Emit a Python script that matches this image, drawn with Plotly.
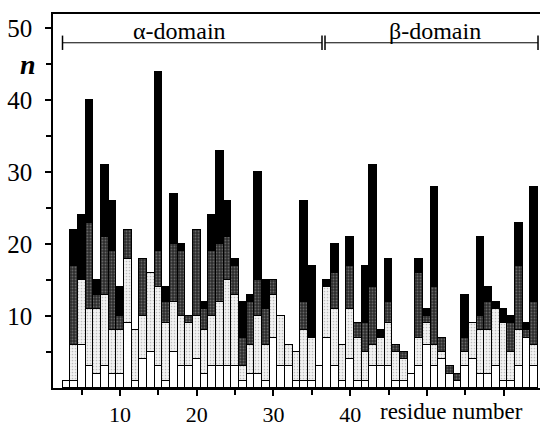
import plotly.graph_objects as go

residues = list(range(3, 65))
white = [1,1,6,3,2,3,2,2,9,1,4,5,3,1,5,3,3,4,2,3,3,3,3,1,2,2,1,7,3,3,1,1,1,3,7,3,1,4,1,1,3,3,3,1,1,2,3,6,3,4,2,1,3,4,2,2,3,1,1,3,7,3]
light = [0,5,9,8,9,10,6,6,9,7,6,11,11,8,7,7,6,6,6,7,9,12,10,2,4,8,5,6,7,3,4,7,6,0,7,8,5,7,6,4,3,4,6,4,3,0,4,3,3,1,0,0,2,5,6,6,8,8,4,5,0,3]
dark = [0,11,0,12,2,8,11,2,4,0,8,0,5,3,8,9,1,12,3,9,8,6,4,4,6,5,5,2,0,0,0,4,0,0,0,5,0,6,2,4,8,0,3,1,1,0,9,1,8,2,1,1,2,0,2,4,0,0,4,9,1,6]
black = [0,5,9,17,2,10,7,4,0,0,0,0,25,2,7,1,0,0,1,5,13,5,1,5,1,15,4,0,0,0,0,14,10,0,1,4,0,4,0,8,17,1,6,0,0,0,2,1,14,0,0,0,6,0,11,2,1,2,1,6,1,16]

y_ticks = [10, 20, 30, 40, 50]
x_ticks = [10, 20, 30, 40, 50, 60]
x_tick_text = ["10", "20", "30", "40", "", ""]

FONT = "Liberation Serif, Times New Roman, serif"

fig = go.Figure()
line = dict(color="black", width=1)
fig.add_trace(go.Bar(x=residues, y=white, marker=dict(color="white", line=line)))
fig.add_trace(go.Bar(x=residues, y=light, marker=dict(
    color="#e6e6e6", line=line,
    pattern=dict(shape=".", fgcolor="#8a8a8a", bgcolor="#f2f2f2", size=3, solidity=0.25))))
fig.add_trace(go.Bar(x=residues, y=dark, marker=dict(
    color="#555555", line=line,
    pattern=dict(shape=".", fgcolor="#a0a0a0", bgcolor="#2c2c2c", size=3, solidity=0.3))))
fig.add_trace(go.Bar(x=residues, y=black, marker=dict(color="black", line=line)))

fig.update_layout(
    barmode="stack", bargap=0, showlegend=False,
    width=540, height=426,
    margin=dict(l=53, r=0, t=14, b=38),
    paper_bgcolor="white", plot_bgcolor="white",
    font=dict(family=FONT, size=25, color="black"),
    xaxis=dict(range=[1.26, 64.75], showgrid=False, zeroline=False, automargin=False,
               showline=True, linecolor="black", linewidth=1.5, mirror=True,
               ticks="outside", ticklen=6, tickwidth=1.5, tickcolor="black",
               tickfont=dict(size=22),
               tickvals=x_ticks, ticktext=x_tick_text, ticklabelstandoff=0,
               minor=dict(tickvals=[5, 15, 25, 35, 45, 55, 65], ticks="outside",
                          ticklen=5, tickwidth=1.5, tickcolor="black")),
    yaxis=dict(range=[0, 52], showgrid=False, zeroline=False, automargin=False,
               showline=True, linecolor="black", linewidth=1.5, mirror=False,
               ticks="outside", ticklen=6, tickwidth=1.5, tickcolor="black",
               tickvals=y_ticks, ticklabelstandoff=8,
               minor=dict(tickvals=[5, 15, 25, 35, 45], ticks="outside",
                          ticklen=5, tickwidth=1.5, tickcolor="black")),
)

# domain brackets
for x0, x1 in [(2.5, 36.33), (36.72, 64.49)]:
    fig.add_shape(type="line", x0=x0, x1=x1, y0=48, y1=48, xref="x", yref="y",
                  line=dict(color="black", width=1))
    for xx in (x0, x1):
        fig.add_shape(type="line", x0=xx, x1=xx, y0=47, y1=49, xref="x", yref="y",
                      line=dict(color="black", width=1.5))

fig.add_annotation(x=17.75, y=49.7, xref="x", yref="y", text="α-domain",
                   showarrow=False, font=dict(family=FONT, size=24))
fig.add_annotation(x=51.1, y=49.7, xref="x", yref="y", text="β-domain",
                   showarrow=False, font=dict(family=FONT, size=24))
fig.add_annotation(x=53.15, y=-0.1, xref="x", yref="paper", text="residue number",
                   showarrow=False, yanchor="bottom", borderpad=0,
                   font=dict(family=FONT, size=23))
fig.add_annotation(x=-0.072, y=45, xref="paper", yref="y", text="<b><i>n</i></b>",
                   showarrow=False, font=dict(family=FONT, size=28))

fig.write_html("out.html", config={"displayModeBar": False},
               post_script="document.body.style.margin='0';")
